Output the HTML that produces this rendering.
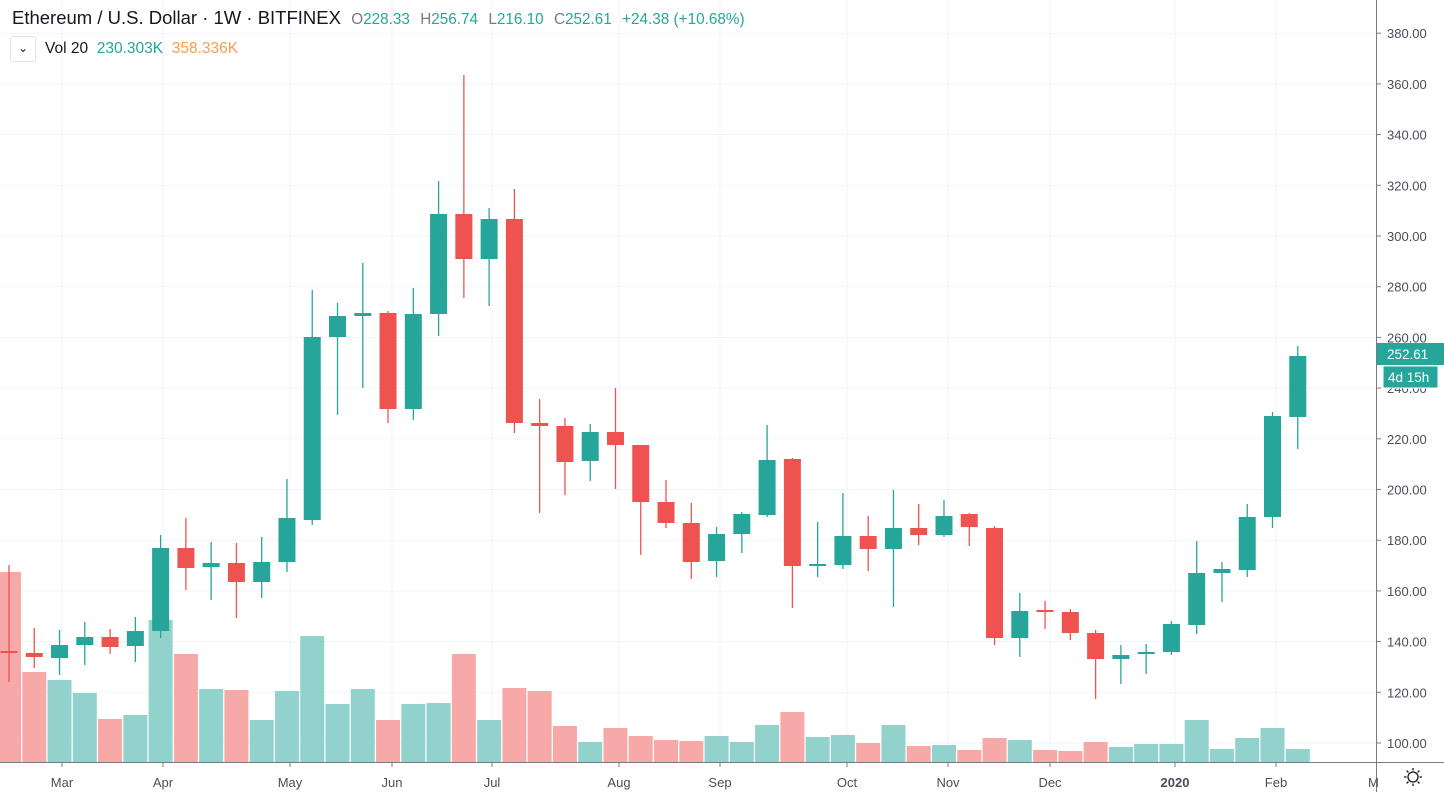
<!DOCTYPE html>
<html><head><meta charset="utf-8"><style>
html,body{margin:0;padding:0;background:#fff;width:1444px;height:792px;overflow:hidden;font-family:"Liberation Sans",sans-serif}
svg{position:absolute;left:0;top:0}
.hdr{position:absolute;left:12px;top:7px;font-size:18.5px;color:#131722;white-space:nowrap}
.hdr span{font-size:15.3px}
.g{color:#26a69a}.gr{color:#787b86}
.vol{position:absolute;left:10px;top:36px;font-size:15.5px;color:#131722;white-space:nowrap}
.btn{display:inline-block;width:24px;height:24px;border:1px solid #e0e3eb;border-radius:3px;vertical-align:middle;text-align:center;line-height:22px;font-size:12px;margin-right:9px;background:#fff}
</style></head><body>
<svg id="s" width="1444" height="792" xmlns="http://www.w3.org/2000/svg" font-family="Liberation Sans, sans-serif">
<g id="grid" stroke="#f0f3fa" stroke-width="1"></g>
<g id="vols"></g>
<g id="cands"></g>
<line x1="1376.5" y1="0" x2="1376.5" y2="792" stroke="#787b86"/>
<line x1="0" y1="762.5" x2="1444" y2="762.5" stroke="#787b86"/>
<g font-size="13" fill="#4a4e5a" text-anchor="middle">
<text x="62" y="787">Mar</text><text x="163" y="787">Apr</text><text x="290" y="787">May</text>
<text x="392" y="787">Jun</text><text x="492" y="787">Jul</text><text x="619" y="787">Aug</text>
<text x="720" y="787">Sep</text><text x="847" y="787">Oct</text><text x="948" y="787">Nov</text>
<text x="1050" y="787">Dec</text><text x="1175" y="787" font-weight="bold">2020</text><text x="1276" y="787">Feb</text>
<text x="1368" y="787" text-anchor="start">M</text>
</g>
<g id="ticks" font-size="13" fill="#4a4e5a"></g>
<rect x="1377" y="343" width="67" height="22" fill="#26a69a"/>
<text x="1387" y="359" font-size="13.5" fill="#fff">252.61</text>
<rect x="1383" y="366" width="55" height="22" fill="#26a69a" stroke="#fff"/>
<text x="1388" y="382" font-size="13.5" fill="#fff">4d 15h</text>
<g transform="translate(1413,777)" stroke="#131722" fill="none" stroke-width="1.3">
<circle r="5"/><line x1="0" y1="-9" x2="0" y2="-6.5"/><line x1="0" y1="9" x2="0" y2="6.5"/><line x1="-9" y1="0" x2="-6.5" y2="0"/><line x1="9" y1="0" x2="6.5" y2="0"/>
<line x1="-6.4" y1="-6.4" x2="-4.6" y2="-4.6"/><line x1="6.4" y1="6.4" x2="4.6" y2="4.6"/><line x1="-6.4" y1="6.4" x2="-4.6" y2="4.6"/><line x1="6.4" y1="-6.4" x2="4.6" y2="-4.6"/>
</g>
</svg>
<div class="hdr">Ethereum / U.S. Dollar · 1W · BITFINEX &nbsp;<span class="gr">O</span><span class="g">228.33</span> &nbsp;<span class="gr">H</span><span class="g">256.74</span> &nbsp;<span class="gr">L</span><span class="g">216.10</span> &nbsp;<span class="gr">C</span><span class="g">252.61</span> &nbsp;<span class="g">+24.38 (+10.68%)</span></div>
<div class="vol"><span class="btn">&#8964;</span>Vol 20 &nbsp;<span class="g">230.303K</span> &nbsp;<span style="color:#ff9b52">358.336K</span></div>
<script>
var NS="http://www.w3.org/2000/svg";
function el(p,t,a){var e=document.createElementNS(NS,t);for(var k in a)e.setAttribute(k,a[k]);document.getElementById(p).appendChild(e);return e;}
for(var p=100;p<=380;p+=20){var y=743-(p-100)*2.535;el("grid","line",{x1:0,x2:1376,y1:y,y2:y});
el("grid","line",{x1:1376,x2:1381,y1:y,y2:y,stroke:"#787b86"});
var t=el("ticks","text",{x:1387,y:y+5});t.textContent=p.toFixed(2);}
[62,163,290,392,492,619,720,847,948,1050,1175,1276].forEach(function(x){el("grid","line",{x1:x,x2:x,y1:0,y2:762});el("grid","line",{x1:x,x2:x,y1:762,y2:767,stroke:"#787b86"});});
var d=[
"r651 653 565 682 572","r653 657 628 668 672","g645 658 630 675 680","g637 645 622 665 693","r637 647 629 654 719",
"g631 646 617 662 715","g548 631 535 638 620","r548 568 518 590 654","g563 567 542 600 689","r563 582 543 618 690",
"g562 582 537 598 720","g518 562 479 572 691","g337 520 290 525 636","g316 337 303 415 704","g313 316 263 388 689",
"r313 409 311 423 720","g314 409 288 420 704","g214 314 181 336 703","r214 259 75 298 654","g219 259 208 306 720",
"r219 423 189 433 688","r423 426 399 513 691","r426 462 418 495 726","g432 461 424 481 742","r432 445 388 489 728",
"r445 502 445 555 736","r502 523 480 528 740","r523 562 503 579 741","g534 561 527 577 736","g514 534 512 553 742",
"g460 515 425 517 725","r459 566 458 608 712","g564 566 522 577 737","g536 565 493 569 735","r536 549 516 571 743",
"g528 549 490 607 725","r528 535 504 545 746","g516 535 500 537 745","r514 527 513 546 750","r528 638 526 645 738",
"g611 638 593 657 740","r610 612 601 629 750","r612 633 609 640 751","r633 659 630 699 742","g655 659 645 684 747",
"g652 654 644 674 744","g624 652 621 655 744","g573 625 541 634 720","g569 573 562 602 749","g517 570 504 577 738",
"g416 517 412 528 728","g356 417 346 449 749"];
d.forEach(function(s,i){var c=s[0]=="g",v=s.slice(1).split(" ").map(Number);var x=9+25.27*i;
var col=c?"#26a69a":"#ef5350",vc=c?"#92d2cc":"#f7a9a7";
el("vols","rect",{x:x-12,y:v[4],width:24,height:762-v[4],fill:vc});
el("cands","line",{x1:x,x2:x,y1:v[2],y2:v[3],stroke:col,"stroke-width":1.3});
el("cands","rect",{x:x-8.5,y:v[0],width:17,height:Math.max(2,v[1]-v[0]),fill:col});});
</script>
</body></html>
